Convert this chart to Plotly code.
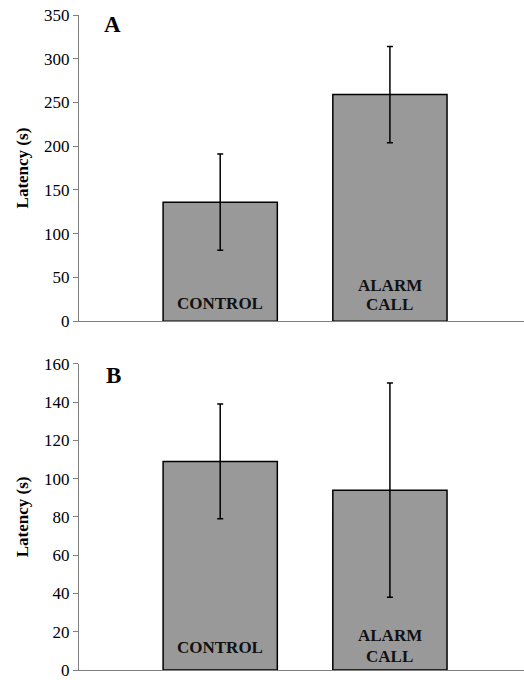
import plotly.graph_objects as go
from plotly.subplots import make_subplots

categories = ["CONTROL", "ALARM<br>CALL"]
positions = [0, 1]
panel_a_values = [136, 259]
panel_a_err = [55, 55]
panel_b_values = [109, 94]
panel_b_err = [30, 56]

FONT = "Liberation Serif"

# label line shifts (px above zero) per panel, per category, per line
label_shifts = {
    1: [[6], [24, 5]],
    2: [[11], [23, 2]],
}

fig = make_subplots(rows=2, cols=1, vertical_spacing=0.065)

for row, vals, errs in [(1, panel_a_values, panel_a_err), (2, panel_b_values, panel_b_err)]:
    fig.add_trace(go.Bar(
        x=positions, y=vals, width=0.673,
        marker=dict(color="#999999", line=dict(color="#000000", width=1.5)),
        error_y=dict(type="data", array=errs, visible=True, color="#000000",
                     thickness=1.5, width=3),
        showlegend=False, hoverinfo="skip",
    ), row=row, col=1)
    sfx = "" if row == 1 else str(row)
    for ci, (xp, lab) in enumerate(zip(positions, categories)):
        for li, line in enumerate(lab.split("<br>")):
            fig.add_annotation(x=xp, y=0, text="<b>" + line + "</b>", showarrow=False,
                               yanchor="bottom", yshift=label_shifts[row][ci][li],
                               xref="x" + sfx, yref="y" + sfx,
                               font=dict(family=FONT, size=17, color="#111111"))

axis_common = dict(showgrid=False, zeroline=False, showline=True, linecolor="#808080",
                   linewidth=1)
fig.update_xaxes(range=[-0.832, 1.79], showticklabels=False, ticks="", **axis_common)
fig.update_yaxes(ticks="outside", ticklen=5, tickcolor="#808080", tickwidth=1,
                 tickfont=dict(family=FONT, size=17, color="#000000"),
                 title=dict(text="<b>Latency (s)</b>", font=dict(family=FONT, size=17, color="#000000"),
                            standoff=11),
                 **axis_common)
fig.update_yaxes(range=[0, 350], dtick=50, row=1, col=1)
fig.update_yaxes(range=[0, 160], dtick=20, row=2, col=1)

fig.update_layout(
    xaxis=dict(domain=[0, 1]),
    yaxis=dict(domain=[0.5326, 1.0]),
    yaxis2=dict(domain=[0.0, 0.4674]),
    xaxis2=dict(domain=[0, 1]),
)

fig.add_annotation(text="<b>A</b>", xref="paper", yref="paper", x=0.076, y=0.985,
                   xanchor="center", yanchor="middle", showarrow=False,
                   font=dict(family=FONT, size=23, color="#000000"))
fig.add_annotation(text="<b>B</b>", xref="paper", yref="paper", x=0.078, y=0.45,
                   xanchor="center", yanchor="middle", showarrow=False,
                   font=dict(family=FONT, size=23, color="#000000"))

fig.update_layout(
    width=524, height=680,
    margin=dict(l=79, r=0, t=15, b=6),
    plot_bgcolor="#ffffff", paper_bgcolor="#ffffff",
    bargap=0.3,
)

fig.write_html("out.html")
